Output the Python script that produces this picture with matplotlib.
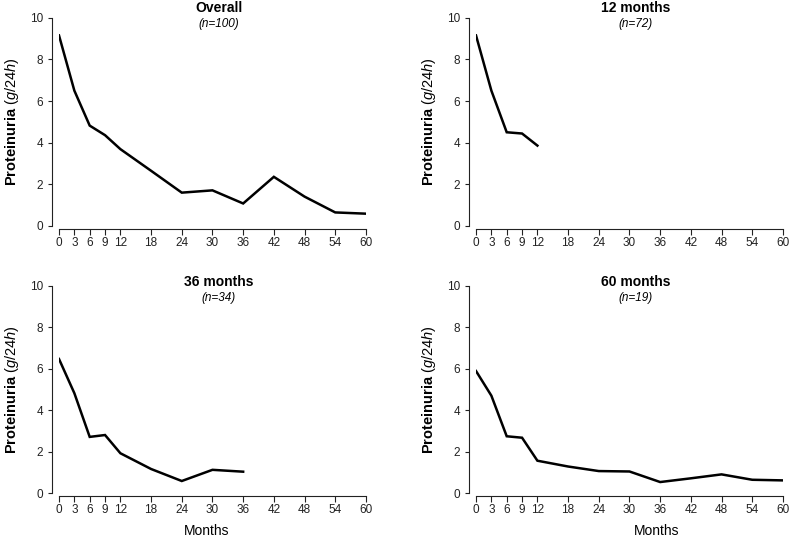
import matplotlib
matplotlib.use("Agg")
import matplotlib.pyplot as plt

plt.rcParams['font.family'] = ['Liberation Sans', 'DejaVu Sans']
plt.rcParams['mathtext.fontset'] = 'custom'
plt.rcParams['mathtext.rm'] = 'Liberation Sans'
plt.rcParams['mathtext.it'] = 'Liberation Sans:italic'
plt.rcParams['mathtext.bf'] = 'Liberation Sans:bold'

# данные
month_ticks = [0, 3, 6, 9, 12, 18, 24, 30, 36, 42, 48, 54, 60]

overall_months = [0, 3, 6, 9, 12, 18, 24, 30, 36, 42, 48, 54, 60]
overall_values = [9.15, 6.5, 4.82, 4.36, 3.69, 2.65, 1.6, 1.71, 1.08, 2.36, 1.41, 0.65, 0.59]

m12_months = [0, 3, 6, 9, 12]
m12_values = [9.15, 6.5, 4.5, 4.44, 3.86]

m36_months = [0, 3, 6, 9, 12, 18, 24, 30, 36]
m36_values = [6.47, 4.82, 2.71, 2.8, 1.92, 1.16, 0.58, 1.12, 1.03]

m60_months = [0, 3, 6, 9, 12, 18, 24, 30, 36, 42, 48, 54, 60]
m60_values = [5.89, 4.7, 2.74, 2.67, 1.56, 1.28, 1.06, 1.04, 0.53, 0.71, 0.9, 0.64, 0.61]

titles = ["Overall", "12 months", "36 months", "60 months"]
n_labels = ["(n=100)", "(n=72)", "(n=34)", "(n=19)"]

fig = plt.figure(figsize=(7.91, 5.38), dpi=100)

panels = [
    # позиция осей, данные, координаты подписей
    ([0.0746, 0.580, 0.388, 0.387], overall_months, overall_values, 1.045, 0.968, None),
    ([0.6018, 0.580, 0.388, 0.387], m12_months, m12_values, 1.045, 0.968, None),
    ([0.0746, 0.0836, 0.388, 0.385], m36_months, m36_values, 1.019, 0.942, 0.48),
    ([0.6018, 0.0836, 0.388, 0.385], m60_months, m60_values, 1.019, 0.942, 0.59),
]

for i, (rect, xs, ys, ty, ny, mx) in enumerate(panels):
    ax = fig.add_axes(rect)
    ax.plot(xs, ys, color='black', lw=1.8, solid_joinstyle='miter')
    ax.set_xlim(0, 60)
    ax.set_ylim(0, 10)
    ax.set_xticks(month_ticks)
    ax.set_yticks([0, 2, 4, 6, 8, 10])
    for s in ['top', 'right']:
        ax.spines[s].set_visible(False)
    ax.spines['left'].set_position(('outward', 5))
    ax.spines['bottom'].set_position(('outward', 2))
    for s in ['left', 'bottom']:
        ax.spines[s].set_linewidth(0.8)
        ax.spines[s].set_color('#222222')
    ax.tick_params(axis='y', length=3, width=0.8, pad=3.5, labelsize=8.5, colors='#222222')
    ax.tick_params(axis='x', length=4, width=0.8, pad=2, labelsize=8.5, colors='#222222')
    ax.set_ylabel(r"$\mathbf{Proteinuria}$ ($\mathit{g/24h}$)", fontsize=10.5, labelpad=6)
    ax.text(0.52, ty, titles[i], transform=ax.transAxes, ha='center', va='center',
            fontsize=10, fontweight='bold')
    ax.text(0.52, ny, n_labels[i], transform=ax.transAxes, ha='center', va='center',
            fontsize=8.5, style='italic')
    if mx is not None:
        ax.text(mx, -0.185, "Months", transform=ax.transAxes, ha='center', va='center',
                fontsize=10)

fig.savefig("out.png", dpi=100)
